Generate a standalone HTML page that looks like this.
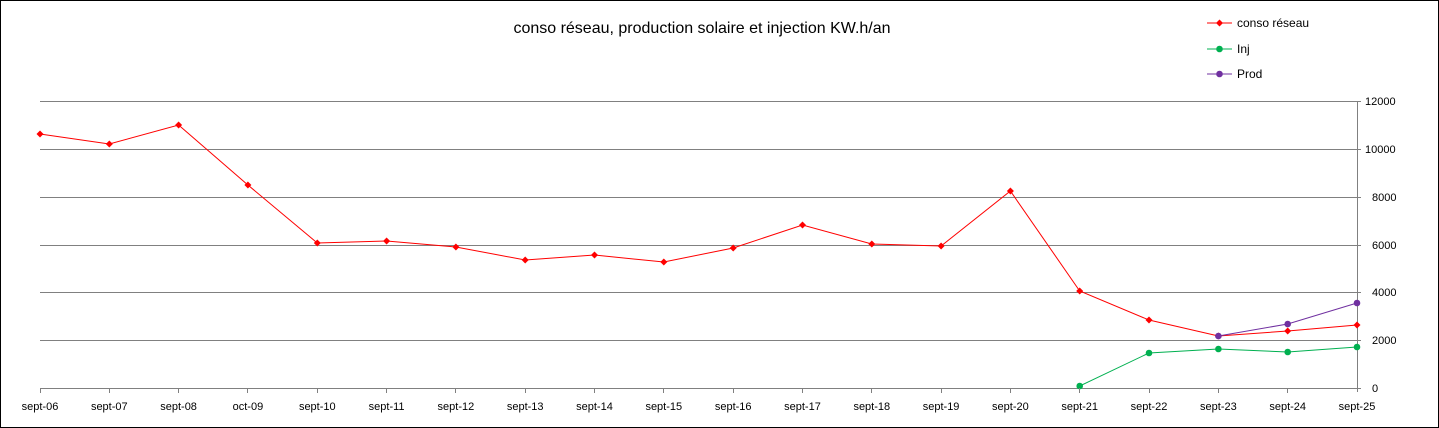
<!DOCTYPE html>
<html><head><meta charset="utf-8"><style>
html,body{margin:0;padding:0;background:#fff;}
svg{display:block;font-family:"Liberation Sans",sans-serif;}
</style></head><body>
<svg width="1439" height="428" viewBox="0 0 1439 428" xmlns="http://www.w3.org/2000/svg">
<rect x="0.5" y="0.5" width="1438" height="427" fill="#fff" stroke="#000"/>
<text x="702" y="33" font-size="16" text-anchor="middle" fill="#000">conso réseau, production solaire et injection  KW.h/an</text>
<g stroke="#808080" stroke-width="1">
<line x1="40" y1="101.5" x2="1357" y2="101.5"/>
<line x1="40" y1="149.5" x2="1357" y2="149.5"/>
<line x1="40" y1="197.5" x2="1357" y2="197.5"/>
<line x1="40" y1="245.5" x2="1357" y2="245.5"/>
<line x1="40" y1="292.5" x2="1357" y2="292.5"/>
<line x1="40" y1="340.5" x2="1357" y2="340.5"/>
<line x1="40" y1="388.5" x2="1357" y2="388.5"/>
<line x1="1357.5" y1="101" x2="1357.5" y2="392"/>
<line x1="1357" y1="101.5" x2="1361" y2="101.5"/>
<line x1="1357" y1="149.5" x2="1361" y2="149.5"/>
<line x1="1357" y1="197.5" x2="1361" y2="197.5"/>
<line x1="1357" y1="245.5" x2="1361" y2="245.5"/>
<line x1="1357" y1="292.5" x2="1361" y2="292.5"/>
<line x1="1357" y1="340.5" x2="1361" y2="340.5"/>
<line x1="1357" y1="388.5" x2="1361" y2="388.5"/>
</g>
<g font-size="11" fill="#000">
<text x="1365" y="105">12000</text><text x="1365" y="153">10000</text><text x="1372" y="201">8000</text>
<text x="1372" y="249">6000</text><text x="1372" y="296">4000</text><text x="1372" y="344">2000</text><text x="1372" y="392">0</text>
</g>
<g id="xl" font-size="11" text-anchor="middle"></g>
<g stroke="#808080">
</g>
<polyline fill="none" stroke="#ff0000" stroke-width="1" points="40,134 109.3,144 178.6,125 247.9,185 317.3,243 386.6,241 455.9,247 525.2,260 594.5,255 663.8,262 733.2,248 802.5,225 871.8,244 941.1,246 1010.4,191 1079.7,291 1149,320 1218.4,336 1287.7,331 1357,325"/>
<polyline fill="none" stroke="#00b050" stroke-width="1" points="1079.7,386 1149,353 1218.4,349 1287.7,352 1357,347"/>
<polyline fill="none" stroke="#7030a0" stroke-width="1" points="1218.4,336 1287.7,324 1357,303"/>
<g fill="#ff0000">
<path d="M40,130.5l3.5,3.5-3.5,3.5-3.5-3.5z"/><path d="M109.3,140.5l3.5,3.5-3.5,3.5-3.5-3.5z"/><path d="M178.6,121.5l3.5,3.5-3.5,3.5-3.5-3.5z"/><path d="M247.9,181.5l3.5,3.5-3.5,3.5-3.5-3.5z"/><path d="M317.3,239.5l3.5,3.5-3.5,3.5-3.5-3.5z"/><path d="M386.6,237.5l3.5,3.5-3.5,3.5-3.5-3.5z"/><path d="M455.9,243.5l3.5,3.5-3.5,3.5-3.5-3.5z"/><path d="M525.2,256.5l3.5,3.5-3.5,3.5-3.5-3.5z"/><path d="M594.5,251.5l3.5,3.5-3.5,3.5-3.5-3.5z"/><path d="M663.8,258.5l3.5,3.5-3.5,3.5-3.5-3.5z"/><path d="M733.2,244.5l3.5,3.5-3.5,3.5-3.5-3.5z"/><path d="M802.5,221.5l3.5,3.5-3.5,3.5-3.5-3.5z"/><path d="M871.8,240.5l3.5,3.5-3.5,3.5-3.5-3.5z"/><path d="M941.1,242.5l3.5,3.5-3.5,3.5-3.5-3.5z"/><path d="M1010.4,187.5l3.5,3.5-3.5,3.5-3.5-3.5z"/><path d="M1079.7,287.5l3.5,3.5-3.5,3.5-3.5-3.5z"/><path d="M1149,316.5l3.5,3.5-3.5,3.5-3.5-3.5z"/><path d="M1218.4,332.5l3.5,3.5-3.5,3.5-3.5-3.5z"/><path d="M1287.7,327.5l3.5,3.5-3.5,3.5-3.5-3.5z"/><path d="M1357,321.5l3.5,3.5-3.5,3.5-3.5-3.5z"/>
</g>
<g fill="#00b050">
<circle cx="1079.7" cy="386" r="3.3"/><circle cx="1149" cy="353" r="3.3"/><circle cx="1218.4" cy="349" r="3.3"/><circle cx="1287.7" cy="352" r="3.3"/><circle cx="1357" cy="347" r="3.3"/>
</g>
<g fill="#7030a0">
<circle cx="1218.4" cy="336" r="3.3"/><circle cx="1287.7" cy="324" r="3.3"/><circle cx="1357" cy="303" r="3.3"/>
</g>
<line x1="1207" y1="23" x2="1232" y2="23" stroke="#ff0000"/><path d="M1219.5,19.5l3.5,3.5-3.5,3.5-3.5-3.5z" fill="#ff0000"/>
<text x="1237" y="27" font-size="12">conso réseau</text>
<line x1="1207" y1="49" x2="1232" y2="49" stroke="#00b050"/><circle cx="1219.5" cy="49" r="3.3" fill="#00b050"/>
<text x="1237" y="53" font-size="12">Inj</text>
<line x1="1207" y1="74" x2="1232" y2="74" stroke="#7030a0"/><circle cx="1219.5" cy="74" r="3.3" fill="#7030a0"/>
<text x="1237" y="78" font-size="12">Prod</text>
<g font-size="11" text-anchor="middle">
<text x="40" y="410">sept-06</text><text x="109.3" y="410">sept-07</text><text x="178.6" y="410">sept-08</text><text x="247.9" y="410">oct-09</text><text x="317.3" y="410">sept-10</text><text x="386.6" y="410">sept-11</text><text x="455.9" y="410">sept-12</text><text x="525.2" y="410">sept-13</text><text x="594.5" y="410">sept-14</text><text x="663.8" y="410">sept-15</text><text x="733.2" y="410">sept-16</text><text x="802.5" y="410">sept-17</text><text x="871.8" y="410">sept-18</text><text x="941.1" y="410">sept-19</text><text x="1010.4" y="410">sept-20</text><text x="1079.7" y="410">sept-21</text><text x="1149" y="410">sept-22</text><text x="1218.4" y="410">sept-23</text><text x="1287.7" y="410">sept-24</text><text x="1357" y="410">sept-25</text>
</g>
<g stroke="#808080">
<line x1="40.5" y1="388" x2="40.5" y2="393"/><line x1="109.5" y1="388" x2="109.5" y2="393"/><line x1="178.5" y1="388" x2="178.5" y2="393"/><line x1="247.5" y1="388" x2="247.5" y2="393"/><line x1="317.5" y1="388" x2="317.5" y2="393"/><line x1="386.5" y1="388" x2="386.5" y2="393"/><line x1="455.5" y1="388" x2="455.5" y2="393"/><line x1="525.5" y1="388" x2="525.5" y2="393"/><line x1="594.5" y1="388" x2="594.5" y2="393"/><line x1="663.5" y1="388" x2="663.5" y2="393"/><line x1="733.5" y1="388" x2="733.5" y2="393"/><line x1="802.5" y1="388" x2="802.5" y2="393"/><line x1="871.5" y1="388" x2="871.5" y2="393"/><line x1="941.5" y1="388" x2="941.5" y2="393"/><line x1="1010.5" y1="388" x2="1010.5" y2="393"/><line x1="1079.5" y1="388" x2="1079.5" y2="393"/><line x1="1149.5" y1="388" x2="1149.5" y2="393"/><line x1="1218.5" y1="388" x2="1218.5" y2="393"/><line x1="1287.5" y1="388" x2="1287.5" y2="393"/>
</g>
</svg>
</body></html>
